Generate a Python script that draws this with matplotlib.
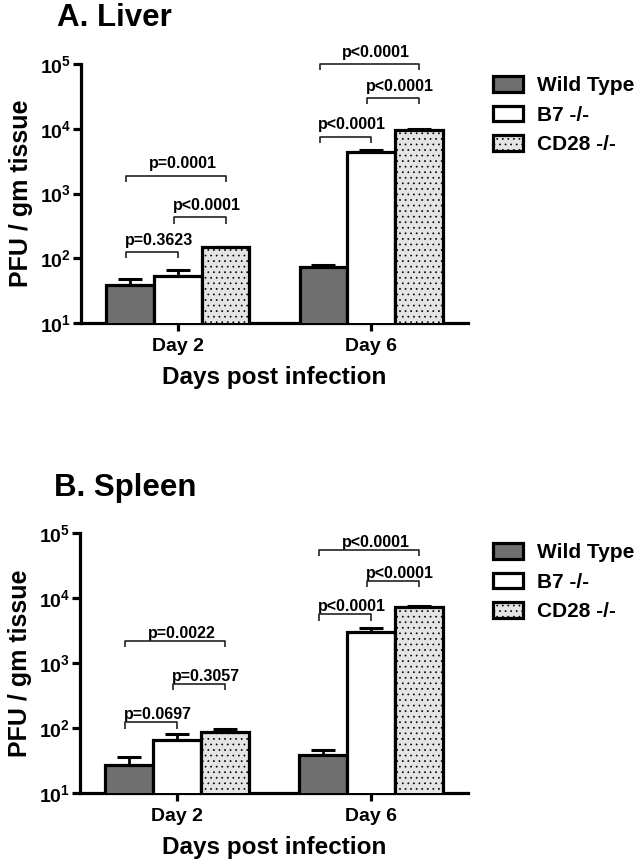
import numpy as np
import matplotlib
matplotlib.use("Agg")
import matplotlib.pyplot as plt
from matplotlib.ticker import FixedLocator, FuncFormatter, NullLocator

plt.rcParams['font.family'] = ['Liberation Sans', 'DejaVu Sans']
plt.rcParams['font.weight'] = 'bold'
plt.rcParams['mathtext.fontset'] = 'custom'
plt.rcParams['mathtext.bf'] = 'Liberation Sans:bold'
plt.rcParams['mathtext.rm'] = 'Liberation Sans:bold'
plt.rcParams['hatch.linewidth'] = 0.5

# ---------------- data ----------------
days = ["Day 2", "Day 6"]
groups = ["Wild Type", "B7 -/-", "CD28 -/-"]

liver_wt = [38, 72]
liver_wt_err = [9, 8]
liver_b7 = [53, 4400]
liver_b7_err = [12, 350]
liver_cd28 = [147, 9600]
liver_cd28_err = [3, 150]

spleen_wt = [27, 38]
spleen_wt_err = [8.5, 7.5]
spleen_b7 = [65, 3020]
spleen_b7_err = [15, 450]
spleen_cd28 = [88, 7300]
spleen_cd28_err = [7, 300]

# comparisons: (day index, group i, group j, label)
liver_pvals = [(0, 0, 1, "p=0.3623"), (0, 1, 2, "p<0.0001"), (0, 0, 2, "p=0.0001"),
               (1, 0, 1, "p<0.0001"), (1, 1, 2, "p<0.0001"), (1, 0, 2, "p<0.0001")]
spleen_pvals = [(0, 0, 1, "p=0.0697"), (0, 1, 2, "p=0.3057"), (0, 0, 2, "p=0.0022"),
                (1, 0, 1, "p<0.0001"), (1, 1, 2, "p<0.0001"), (1, 0, 2, "p<0.0001")]

# ---------------- layout ----------------
W, H = 643, 867
fig = plt.figure(figsize=(W / 100, H / 100), dpi=100)

fills = ["#6f6f6f", "white", "#e4e4e4"]
hatches = [None, None, "..."]
bw = 0.247
lw = 2.3

def px_rect(l, t, r, b):
    return [l / W, 1 - b / H, (r - l) / W, (b - t) / H]

# bracket heights (log10 units) — layout
liver_br_y = [2.092, 2.631, 3.277, 3.877, 4.477, 5.0]
spleen_br_y = [2.085, 2.682, 3.335, 3.747, 4.261, 4.735]


def panel(rect, title, title_xy, series, errs, pvals, br_y, txt_off, leg_top):
    ax = fig.add_axes(rect)
    x = np.arange(len(days))
    conts = []
    for k in range(3):
        xs = x + (k - 1) * bw
        c = ax.bar(xs, series[k], width=bw, color=fills[k], edgecolor="black",
                   linewidth=lw, hatch=hatches[k], label=groups[k], zorder=3)
        conts.append(c)
        ax.errorbar(xs, series[k], yerr=[np.zeros(len(days)), errs[k]], fmt="none",
                    ecolor="black", elinewidth=2.0, capsize=8.5, capthick=2.2, zorder=2)
    ax.set_yscale("log")
    ax.set_ylim(10, 1e5)
    ax.set_xlim(-0.5, 1.5)
    ax.yaxis.set_major_locator(FixedLocator([1e1, 1e2, 1e3, 1e4, 1e5]))
    ax.yaxis.set_minor_locator(NullLocator())
    ax.yaxis.set_major_formatter(FuncFormatter(
        lambda v, p: r"$\mathbf{10^{%d}}$" % int(round(np.log10(v)))))
    ax.set_xticks(x)
    ax.set_xticklabels(days, fontsize=14, fontweight="bold")
    for s in ["top", "right"]:
        ax.spines[s].set_visible(False)
    for s in ["left", "bottom"]:
        ax.spines[s].set_linewidth(2.3)
    ax.tick_params(axis="y", length=6, width=2.3, labelsize=14, pad=1)
    ax.tick_params(axis="x", length=5.5, width=2.3, pad=5)
    ax.set_ylabel("PFU / gm tissue", fontsize=18, fontweight="bold", labelpad=5)
    ax.set_xlabel("Days post infection", fontsize=17.5, fontweight="bold", labelpad=8)

    # significance brackets
    for (d, i, j, lab), yl in zip(pvals, br_y):
        x1 = d + (i - 1) * bw - 0.02
        x2 = d + (j - 1) * bw
        y = 10 ** yl
        yb = 10 ** (yl - 0.095)
        ax.plot([x1, x1, x2, x2], [yb, y, y, yb], color="#222222", lw=1.2,
                clip_on=False, zorder=4, solid_capstyle="butt")
        ax.annotate(lab, xy=((x1 + x2) / 2, y), xytext=(5, txt_off),
                    textcoords="offset points", ha="center", va="center",
                    fontsize=11.5, fontweight="bold", annotation_clip=False)

    fig.text(title_xy[0] / W, 1 - title_xy[1] / H, title, fontsize=22.5,
             fontweight="bold", ha="left", va="center")

    fig.legend(handles=conts, labels=groups, loc="upper left",
               bbox_to_anchor=(493 / W, 1 - leg_top / H), bbox_transform=fig.transFigure,
               frameon=False, borderpad=0, borderaxespad=0,
               handlelength=1.45, handleheight=0.78, handletextpad=0.65,
               labelspacing=0.5, prop={"weight": "bold", "size": 15})
    return ax


panel(px_rect(81, 64, 468, 323), "A. Liver", (57, 18),
      [liver_wt, liver_b7, liver_cd28], [liver_wt_err, liver_b7_err, liver_cd28_err],
      liver_pvals, liver_br_y, 8.5, 76)

panel(px_rect(80, 533, 468, 793), "B. Spleen", (54, 488),
      [spleen_wt, spleen_b7, spleen_cd28], [spleen_wt_err, spleen_b7_err, spleen_cd28_err],
      spleen_pvals, spleen_br_y, 5.5, 543)

fig.savefig("out.png", dpi=100)
